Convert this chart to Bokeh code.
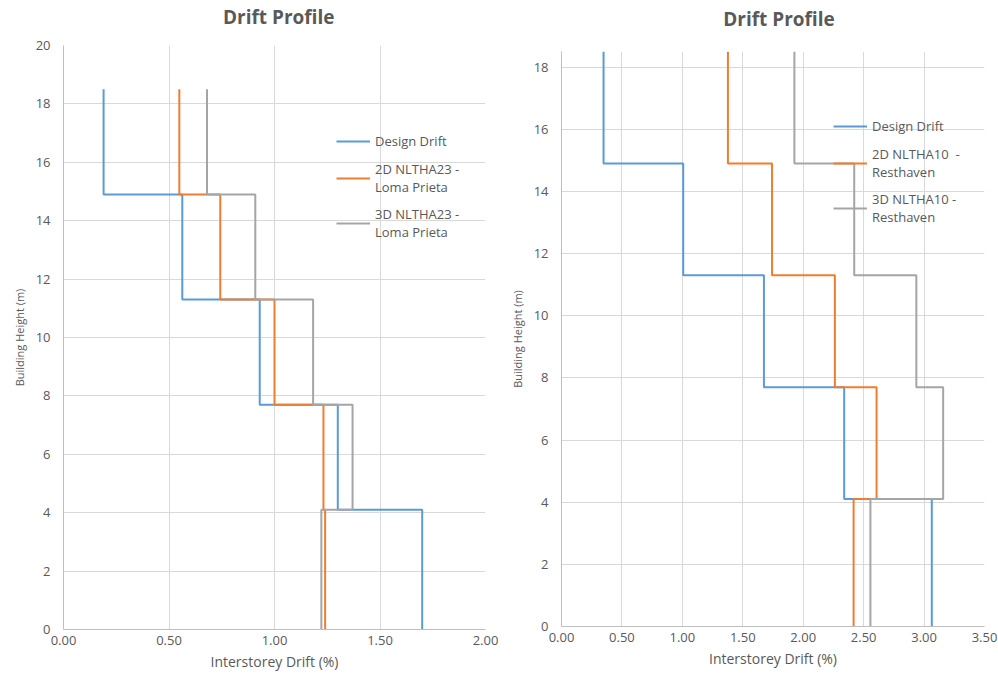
from bokeh.plotting import figure
from bokeh.layouts import row, column
from bokeh.models import Range1d, Legend, LegendItem, FixedTicker, NumeralTickFormatter
from bokeh.core.properties import value
from bokeh.embed import file_html
from bokeh.resources import INLINE

# ---- data ----
heights = [0, 4.1, 7.7, 11.3, 14.9, 18.5]

left_names = ["Design Drift", "2D NLTHA23 -\nLoma Prieta", "3D NLTHA23 -\nLoma Prieta"]
left_design = [1.70, 1.30, 0.93, 0.563, 0.19]
left_2d = [1.24, 1.232, 1.00, 0.743, 0.549]
left_3d = [1.222, 1.37, 1.183, 0.909, 0.68]

right_names = ["Design Drift", "2D NLTHA10  -\nResthaven", "3D NLTHA10 -\nResthaven"]
right_design = [3.064, 2.339, 1.675, 1.007, 0.348]
right_2d = [2.417, 2.607, 2.262, 1.742, 1.377]
right_3d = [2.556, 3.158, 2.936, 2.422, 1.927]

left_xticks = [0, 0.5, 1.0, 1.5, 2.0]
right_xticks = [0, 0.5, 1.0, 1.5, 2.0, 2.5, 3.0, 3.5]
yticks = [0, 2, 4, 6, 8, 10, 12, 14, 16, 18, 20]

title_text = "Drift Profile"

colors = ["#5B9BD5", "#ED7D31", "#A5A5A5"]
FONT = "Open Sans"
TXT = "#595959"


def step_xy(drifts):
    xs, ys = [], []
    for i, d in enumerate(drifts):
        xs += [d, d]
        ys += [heights[i], heights[i + 1]]
    return xs, ys


def title_fig(width, height, cx, cy):
    t = figure(width=width, height=height, output_backend="svg", toolbar_location=None,
               x_range=Range1d(0, width), y_range=Range1d(0, height),
               min_border=0, min_border_left=0, min_border_right=0,
               min_border_top=0, min_border_bottom=0)
    t.axis.visible = False
    t.grid.visible = False
    t.outline_line_color = None
    t.text(x=[cx], y=[cy], text=[title_text], text_font=value(FONT), text_font_size="19px",
           text_font_style="bold", text_color=TXT, text_align="center", text_baseline="middle")
    return t


def make(width, height, xmax, ymax, xticks, series, names, borders, leg_loc):
    p = figure(width=width, height=height, output_backend="svg", toolbar_location=None,
               x_range=Range1d(0, xmax), y_range=Range1d(0, ymax),
               min_border_left=borders[0], min_border_right=borders[1],
               min_border_top=borders[2], min_border_bottom=borders[3])
    p.outline_line_color = None

    items = []
    for s, name, c in zip(series, names, colors):
        xs, ys = step_xy(s)
        r = p.line(xs, ys, line_color=c, line_width=2)
        items.append(LegendItem(label=name, renderers=[r]))

    for ax in (p.xaxis[0], p.yaxis[0]):
        ax.axis_line_color = "#bfbfbf"
        ax.major_tick_line_color = None
        ax.minor_tick_line_color = None
        ax.major_tick_out = 0
        ax.major_tick_in = 0
        ax.minor_tick_out = 0
        ax.major_label_text_font = FONT
        ax.major_label_text_font_size = "13px"
        ax.major_label_text_color = TXT
        ax.axis_label_text_font = FONT
        ax.axis_label_text_font_style = "normal"
        ax.axis_label_text_color = TXT
    p.xaxis.major_label_standoff = 6
    p.yaxis.major_label_standoff = 13
    p.xaxis.axis_label_standoff = 4
    p.yaxis.axis_label_standoff = 6
    p.xaxis.ticker = FixedTicker(ticks=xticks)
    p.xaxis.formatter = NumeralTickFormatter(format="0.00")
    p.yaxis.ticker = FixedTicker(ticks=[t for t in yticks if t <= ymax])
    p.xaxis.axis_label = "Interstorey Drift (%)"
    p.xaxis.axis_label_text_font_size = "14px"
    p.yaxis.axis_label = "Building Height (m)"
    p.yaxis.axis_label_text_font_size = "11px"

    p.xgrid.ticker = FixedTicker(ticks=xticks)
    p.ygrid.ticker = FixedTicker(ticks=[t for t in yticks if t <= ymax])
    p.xgrid.grid_line_color = "#d9d9d9"
    p.ygrid.grid_line_color = "#d9d9d9"

    leg = Legend(items=items, location=leg_loc)
    leg.background_fill_alpha = 0
    leg.border_line_alpha = 0
    leg.label_text_font = FONT
    leg.label_text_font_size = "13px"
    leg.label_text_color = TXT
    leg.glyph_width = 34
    leg.label_standoff = 5
    leg.spacing = 9
    leg.padding = 0
    leg.margin = 0
    p.add_layout(leg, "center")
    return p


t1 = title_fig(500, 35, 255, 19)
p1 = make(500, 640, 2.0, 20, left_xticks, [left_design, left_2d, left_3d], left_names,
          (63, 15, 10, 46), (273, 388))
t2 = title_fig(498, 41, 256, 23)
p2 = make(498, 634, 3.5, 18.5, right_xticks, [right_design, right_2d, right_3d], right_names,
          (61, 14, 10, 49), (272, 400))

layout = row(column(t1, p1), column(t2, p2))
open("out.html", "w").write(file_html(layout, INLINE))
